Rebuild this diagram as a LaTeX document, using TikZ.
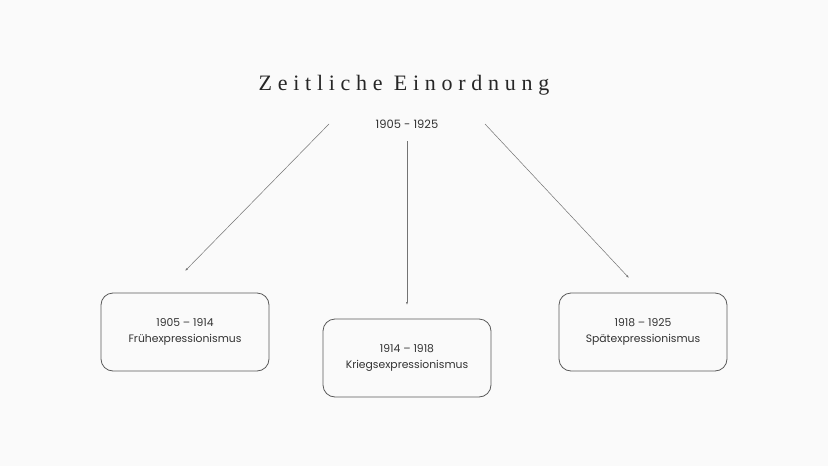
\documentclass[tikz,border=0pt]{standalone}
\usepackage{fontspec}
\setmainfont{Liberation Serif}
\newfontfamily\titlefont[LetterSpace=26]{Liberation Serif}
\newfontfamily\bodyfont{Poppins}
\usetikzlibrary{arrows.meta}
\begin{document}
\begin{tikzpicture}[x=1pt,y=-1pt,
  period/.style={draw=black!65,line width=0.8pt,rounded corners=12pt,minimum width=168pt,minimum height=78pt,align=center,font=\bodyfont\fontsize{10.8}{16}\selectfont,text=black!80},
  link/.style={draw=black!55,line width=0.5pt,-{Latex[length=3pt,width=2pt]}}]
\fill[black!2] (0,0) rectangle (828,466);
\useasboundingbox (0,0) rectangle (828,466);
\node[font=\titlefont\fontsize{22}{26}\selectfont,text=black!85] (title) at (404,85) {Zeitliche Einordnung};
\node[font=\bodyfont\fontsize{11.5}{13}\selectfont,text=black!80] (sub) at (407,124) {1905 - 1925};
\node[period] (b1) at (185,332) {1905 – 1914\\Frühexpressionismus};
\node[period] (b2) at (407,358) {1914 – 1918\\Kriegsexpressionismus};
\node[period] (b3) at (643,332) {1918 – 1925\\Spätexpressionismus};
\coordinate (s1) at (329,124);
\coordinate (s2) at (407,141);
\coordinate (s3) at (485,124);
\coordinate (e1) at (185,271);
\coordinate (e2) at (407,305);
\coordinate (e3) at (629,278);
\draw[link] (s1) -- (e1);
\draw[link] (s2) -- (e2);
\draw[link] (s3) -- (e3);
\end{tikzpicture}
\end{document}
